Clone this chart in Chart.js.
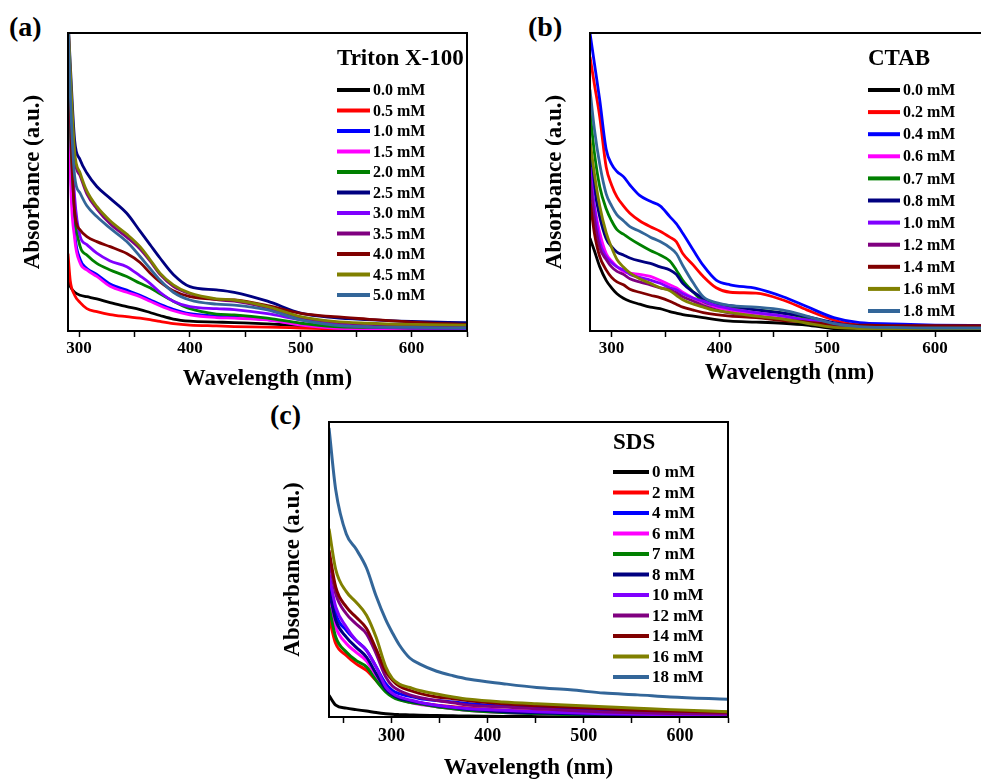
<!DOCTYPE html>
<html>
<head>
<meta charset="utf-8">
<title>Surfactant UV-Vis</title>
<script src="https://cdn.jsdelivr.net/npm/chart.js@4.4.1/dist/chart.umd.min.js"></script>
<style>
  html, body { margin: 0; padding: 0; background: #fff; overflow: hidden; }
  body { width: 981px; height: 783px; position: relative; }
  canvas { position: absolute; }
  .tag { position: absolute; font: bold 28px "Liberation Serif", "Times New Roman", serif; color: #000; line-height: 1; }
</style>
</head>
<body>
<div class="tag" style="left:9px;top:13px">(a)</div>
<div class="tag" style="left:528px;top:13px">(b)</div>
<div class="tag" style="left:270px;top:401px">(c)</div>
<canvas id="chart-triton" width="480" height="400" style="left:0;top:0"></canvas>
<canvas id="chart-ctab" width="510" height="400" style="left:490px;top:0"></canvas>
<canvas id="chart-sds" width="470" height="383" style="left:270px;top:400px"></canvas>
<script>
var serif = '"Liberation Serif", "Times New Roman", serif';
var curveColors = ["#000000", "#ff0000", "#0000ff", "#ff00ff", "#008000", "#000080",
  "#8000ff", "#800080", "#800000", "#808000", "#336699"];

// (a) Triton X-100
var tritonNames = ["0.0 mM", "0.5 mM", "1.0 mM", "1.5 mM", "2.0 mM", "2.5 mM",
  "3.0 mM", "3.5 mM", "4.0 mM", "4.5 mM", "5.0 mM"];
var tritonWave = [290, 292, 296, 301, 307, 316, 328, 343, 355, 364, 373, 385, 400, 424, 440, 470, 500, 530, 560, 600, 650];
var tritonAbs = [
  [0.17, 0.15, 0.13, 0.12, 0.115, 0.108, 0.095, 0.082, 0.072, 0.062, 0.052, 0.04, 0.033, 0.03, 0.028, 0.024, 0.018, 0.012, 0.008, 0.006, 0.006],
  [0.26, 0.17, 0.12, 0.095, 0.075, 0.065, 0.055, 0.048, 0.043, 0.038, 0.032, 0.025, 0.02, 0.017, 0.015, 0.013, 0.01, 0.007, 0.005, 0.003, 0.003],
  [1.05, 0.6, 0.33, 0.24, 0.21, 0.19, 0.158, 0.137, 0.12, 0.105, 0.09, 0.073, 0.058, 0.05, 0.047, 0.038, 0.022, 0.012, 0.008, 0.006, 0.005],
  [1.05, 0.55, 0.31, 0.227, 0.205, 0.183, 0.15, 0.13, 0.115, 0.1, 0.085, 0.068, 0.054, 0.045, 0.043, 0.037, 0.02, 0.01, 0.008, 0.007, 0.006],
  [1.05, 0.7, 0.4, 0.283, 0.255, 0.227, 0.205, 0.183, 0.16, 0.145, 0.125, 0.1, 0.075, 0.057, 0.054, 0.043, 0.026, 0.015, 0.012, 0.01, 0.008],
  [1.05, 0.9, 0.64, 0.574, 0.53, 0.485, 0.445, 0.395, 0.335, 0.29, 0.245, 0.19, 0.149, 0.138, 0.13, 0.1, 0.06, 0.045, 0.038, 0.032, 0.028],
  [1.05, 0.75, 0.45, 0.317, 0.29, 0.261, 0.235, 0.216, 0.185, 0.16, 0.13, 0.1, 0.082, 0.075, 0.072, 0.058, 0.037, 0.022, 0.014, 0.01, 0.008],
  [1.05, 0.85, 0.58, 0.52, 0.46, 0.41, 0.36, 0.315, 0.275, 0.235, 0.19, 0.15, 0.125, 0.105, 0.1, 0.078, 0.045, 0.03, 0.022, 0.018, 0.016],
  [1.05, 0.75, 0.4, 0.339, 0.317, 0.3, 0.283, 0.26, 0.23, 0.195, 0.165, 0.135, 0.115, 0.106, 0.104, 0.085, 0.059, 0.048, 0.04, 0.03, 0.022],
  [1.05, 0.88, 0.6, 0.53, 0.47, 0.418, 0.37, 0.325, 0.283, 0.24, 0.194, 0.155, 0.127, 0.108, 0.104, 0.082, 0.048, 0.032, 0.026, 0.022, 0.02],
  [1.05, 0.8, 0.52, 0.462, 0.42, 0.384, 0.345, 0.3, 0.25, 0.21, 0.171, 0.13, 0.104, 0.09, 0.087, 0.071, 0.037, 0.02, 0.014, 0.012, 0.01]
];

// (b) CTAB
var ctabNames = ["0.0 mM", "0.2 mM", "0.4 mM", "0.6 mM", "0.7 mM", "0.8 mM",
  "1.0 mM", "1.2 mM", "1.4 mM", "1.6 mM", "1.8 mM"];
var ctabWave = [280, 284, 289, 295, 300, 305, 311, 317, 326, 336, 345, 354, 360, 366, 376, 385, 397, 410, 434, 459, 481, 506, 530, 560, 600, 650];
var ctabAbs = [
  [0.311, 0.27, 0.216, 0.17, 0.145, 0.125, 0.11, 0.1, 0.09, 0.08, 0.075, 0.065, 0.06, 0.055, 0.05, 0.045, 0.038, 0.033, 0.03, 0.026, 0.02, 0.008, 0.005, 0.004, 0.004, 0.004],
  [0.92, 0.83, 0.72, 0.55, 0.49, 0.45, 0.42, 0.395, 0.37, 0.35, 0.335, 0.315, 0.3, 0.26, 0.22, 0.183, 0.145, 0.13, 0.127, 0.104, 0.071, 0.037, 0.02, 0.012, 0.01, 0.01],
  [1.0, 0.9, 0.776, 0.61, 0.56, 0.535, 0.518, 0.49, 0.455, 0.435, 0.42, 0.384, 0.36, 0.328, 0.27, 0.22, 0.171, 0.155, 0.143, 0.115, 0.082, 0.045, 0.028, 0.024, 0.02, 0.018],
  [0.5, 0.42, 0.33, 0.26, 0.235, 0.216, 0.2, 0.194, 0.19, 0.183, 0.17, 0.155, 0.145, 0.13, 0.11, 0.095, 0.08, 0.07, 0.059, 0.05, 0.037, 0.02, 0.01, 0.008, 0.008, 0.008],
  [0.74, 0.6, 0.485, 0.41, 0.37, 0.34, 0.325, 0.31, 0.29, 0.27, 0.255, 0.235, 0.205, 0.17, 0.13, 0.1, 0.087, 0.08, 0.071, 0.06, 0.045, 0.025, 0.012, 0.01, 0.008, 0.008],
  [0.608, 0.48, 0.384, 0.31, 0.283, 0.265, 0.255, 0.245, 0.235, 0.227, 0.215, 0.205, 0.19, 0.16, 0.13, 0.11, 0.09, 0.085, 0.071, 0.06, 0.048, 0.028, 0.015, 0.012, 0.01, 0.008],
  [0.55, 0.42, 0.3, 0.25, 0.23, 0.215, 0.205, 0.19, 0.18, 0.171, 0.16, 0.145, 0.138, 0.125, 0.11, 0.1, 0.085, 0.075, 0.062, 0.05, 0.037, 0.025, 0.015, 0.01, 0.008, 0.008],
  [0.518, 0.38, 0.28, 0.24, 0.215, 0.2, 0.19, 0.175, 0.165, 0.155, 0.145, 0.138, 0.128, 0.115, 0.1, 0.085, 0.071, 0.06, 0.05, 0.04, 0.03, 0.018, 0.01, 0.008, 0.008, 0.008],
  [0.44, 0.33, 0.25, 0.205, 0.18, 0.165, 0.155, 0.14, 0.13, 0.12, 0.112, 0.1, 0.09, 0.08, 0.07, 0.062, 0.055, 0.05, 0.045, 0.035, 0.03, 0.022, 0.02, 0.018, 0.018, 0.018],
  [0.642, 0.53, 0.42, 0.33, 0.28, 0.24, 0.215, 0.195, 0.175, 0.16, 0.145, 0.135, 0.12, 0.105, 0.09, 0.08, 0.068, 0.062, 0.05, 0.04, 0.026, 0.012, 0.008, 0.006, 0.006, 0.006],
  [0.81, 0.68, 0.56, 0.46, 0.42, 0.39, 0.37, 0.35, 0.335, 0.315, 0.3, 0.28, 0.26, 0.22, 0.16, 0.115, 0.095, 0.085, 0.08, 0.07, 0.05, 0.025, 0.015, 0.012, 0.01, 0.01]
];

// (c) SDS
var sdsNames = ["0 mM", "2 mM", "4 mM", "6 mM", "7 mM", "8 mM",
  "10 mM", "12 mM", "14 mM", "16 mM", "18 mM"];
var sdsWave = [235, 242, 253, 263, 274, 284, 294, 301, 308, 319, 329, 347, 364, 381, 416, 451, 486, 521, 556, 590, 650];
var sdsAbs = [
  [0.073, 0.04, 0.03, 0.025, 0.02, 0.015, 0.011, 0.009, 0.008, 0.007, 0.006, 0.005, 0.004, 0.003, 0.002, 0.002, 0.001, 0.001, 0.001, 0.001, 0.001],
  [0.339, 0.249, 0.209, 0.181, 0.158, 0.124, 0.09, 0.075, 0.062, 0.054, 0.048, 0.04, 0.035, 0.03, 0.023, 0.019, 0.015, 0.011, 0.009, 0.008, 0.007],
  [0.475, 0.35, 0.294, 0.26, 0.226, 0.17, 0.113, 0.09, 0.079, 0.07, 0.063, 0.056, 0.051, 0.045, 0.037, 0.032, 0.027, 0.022, 0.018, 0.014, 0.01],
  [0.407, 0.305, 0.249, 0.22, 0.19, 0.14, 0.09, 0.07, 0.06, 0.05, 0.043, 0.035, 0.028, 0.022, 0.015, 0.011, 0.008, 0.006, 0.005, 0.004, 0.004],
  [0.373, 0.271, 0.22, 0.192, 0.17, 0.124, 0.085, 0.068, 0.058, 0.05, 0.045, 0.035, 0.028, 0.022, 0.015, 0.011, 0.008, 0.006, 0.005, 0.004, 0.004],
  [0.43, 0.328, 0.271, 0.237, 0.203, 0.147, 0.095, 0.075, 0.063, 0.055, 0.048, 0.038, 0.032, 0.026, 0.018, 0.014, 0.011, 0.009, 0.007, 0.006, 0.005],
  [0.486, 0.373, 0.305, 0.26, 0.226, 0.17, 0.102, 0.08, 0.068, 0.058, 0.05, 0.04, 0.033, 0.028, 0.023, 0.018, 0.014, 0.011, 0.009, 0.008, 0.007],
  [0.54, 0.418, 0.35, 0.316, 0.282, 0.215, 0.136, 0.105, 0.09, 0.075, 0.066, 0.056, 0.048, 0.04, 0.034, 0.028, 0.022, 0.017, 0.014, 0.012, 0.01],
  [0.565, 0.44, 0.373, 0.339, 0.3, 0.23, 0.155, 0.125, 0.105, 0.09, 0.08, 0.068, 0.062, 0.055, 0.045, 0.038, 0.033, 0.028, 0.023, 0.02, 0.016],
  [0.638, 0.5, 0.425, 0.39, 0.345, 0.27, 0.17, 0.13, 0.112, 0.1, 0.09, 0.078, 0.068, 0.06, 0.051, 0.045, 0.04, 0.035, 0.03, 0.025, 0.018],
  [0.98, 0.77, 0.62, 0.57, 0.505, 0.41, 0.33, 0.285, 0.245, 0.2, 0.18, 0.155, 0.14, 0.128, 0.113, 0.1, 0.092, 0.081, 0.075, 0.068, 0.06]
];

function makeChart(id, p) {
  var ctx = document.getElementById(id);

  var overlay = {
    id: "overlay",
    afterDraw: function (chart) {
      var c = chart.ctx;
      var a = chart.chartArea;
      var L = p.legend;
      c.save();
      c.strokeStyle = "#000";
      c.lineWidth = 2;
      c.strokeRect(a.left, a.top, a.right - a.left, a.bottom - a.top);
      c.fillStyle = "#000";
      c.textBaseline = "middle";
      c.font = "bold 23px " + serif;
      c.fillText(p.title, L.x, L.titleY);
      c.font = "bold " + L.size + "px " + serif;
      p.names.forEach(function (name, i) {
        var y = L.firstY + i * L.rowH;
        c.strokeStyle = curveColors[i];
        c.lineWidth = 4;
        c.beginPath();
        c.moveTo(L.x, y);
        c.lineTo(L.x + L.lineLen, y);
        c.stroke();
        c.fillText(name, L.x + L.lineLen + 3, y + 1);
      });
      c.restore();
    },
  };

  return new Chart(ctx, {
    type: "line",
    data: {
      datasets: p.abs.map(function (vals, i) {
        return {
          label: p.names[i],
          data: vals.map(function (v, k) { return { x: p.wave[k], y: v }; }),
          borderColor: curveColors[i],
          borderWidth: p.lineW,
          pointRadius: 0,
          fill: false,
          cubicInterpolationMode: "monotone",
          order: p.abs.length - i,
        };
      }),
    },
    options: {
      responsive: false,
      animation: false,
      devicePixelRatio: 1,
      layout: { padding: { top: p.pad.top, right: p.pad.right, left: 0, bottom: 0 } },
      plugins: { legend: { display: false }, tooltip: { enabled: false } },
      scales: {
        x: {
          type: "linear",
          min: p.xMin,
          max: p.xMax,
          afterFit: function (s) { s.height = p.xH; },
          ticks: {
            stepSize: 50,
            includeBounds: false,
            autoSkip: false,
            maxRotation: 0,
            padding: p.tickPad,
            color: "#000",
            font: { family: serif, size: p.tickSize, weight: "bold" },
            callback: function (v) { return v % 100 === 0 ? v : ""; },
          },
          grid: { drawOnChartArea: false, drawTicks: true, tickLength: 6, tickWidth: 1.5, tickColor: "#000" },
          border: { display: true, color: "#000", width: 2 },
          title: {
            display: true,
            text: "Wavelength (nm)",
            color: "#000",
            font: { family: serif, size: 23, weight: "bold" },
            padding: { top: 0, bottom: p.xTitlePad },
          },
        },
        y: {
          min: 0,
          max: 1,
          afterFit: function (s) { s.width = p.yW; },
          ticks: { display: false },
          grid: { drawOnChartArea: false, drawTicks: false },
          border: { display: true, color: "#000", width: 2 },
          title: {
            display: true,
            text: "Absorbance (a.u.)",
            color: "#000",
            font: { family: serif, size: 23, weight: "bold" },
            padding: { top: p.yTitlePad, bottom: 0 },
          },
        },
      },
    },
    plugins: [overlay],
  });
}

makeChart("chart-triton", {
  names: tritonNames, wave: tritonWave, abs: tritonAbs, title: "Triton X-100",
  xMin: 290, xMax: 650, lineW: 2.8,
  pad: { top: 33, right: 13 }, xH: 69, yW: 68,
  tickSize: 17, tickPad: 1, xTitlePad: 7, yTitlePad: 19,
  legend: { x: 337, titleY: 59, firstY: 90, rowH: 20.5, lineLen: 33, size: 16 },
});

makeChart("chart-ctab", {
  names: ctabNames, wave: ctabWave, abs: ctabAbs, title: "CTAB",
  xMin: 280, xMax: 650, lineW: 2.8,
  pad: { top: 33, right: 11 }, xH: 69, yW: 100,
  tickSize: 17, tickPad: 1, xTitlePad: 13, yTitlePad: 51,
  legend: { x: 378, titleY: 59, firstY: 90, rowH: 22.1, lineLen: 32, size: 16 },
});

makeChart("chart-sds", {
  names: sdsNames, wave: sdsWave, abs: sdsAbs, title: "SDS",
  xMin: 235, xMax: 650, lineW: 3,
  pad: { top: 22, right: 12 }, xH: 66, yW: 59,
  tickSize: 18, tickPad: 3, xTitlePad: 1, yTitlePad: 9,
  legend: { x: 343, titleY: 43, firstY: 72, rowH: 20.5, lineLen: 36, size: 17 },
});
</script>
</body>
</html>
